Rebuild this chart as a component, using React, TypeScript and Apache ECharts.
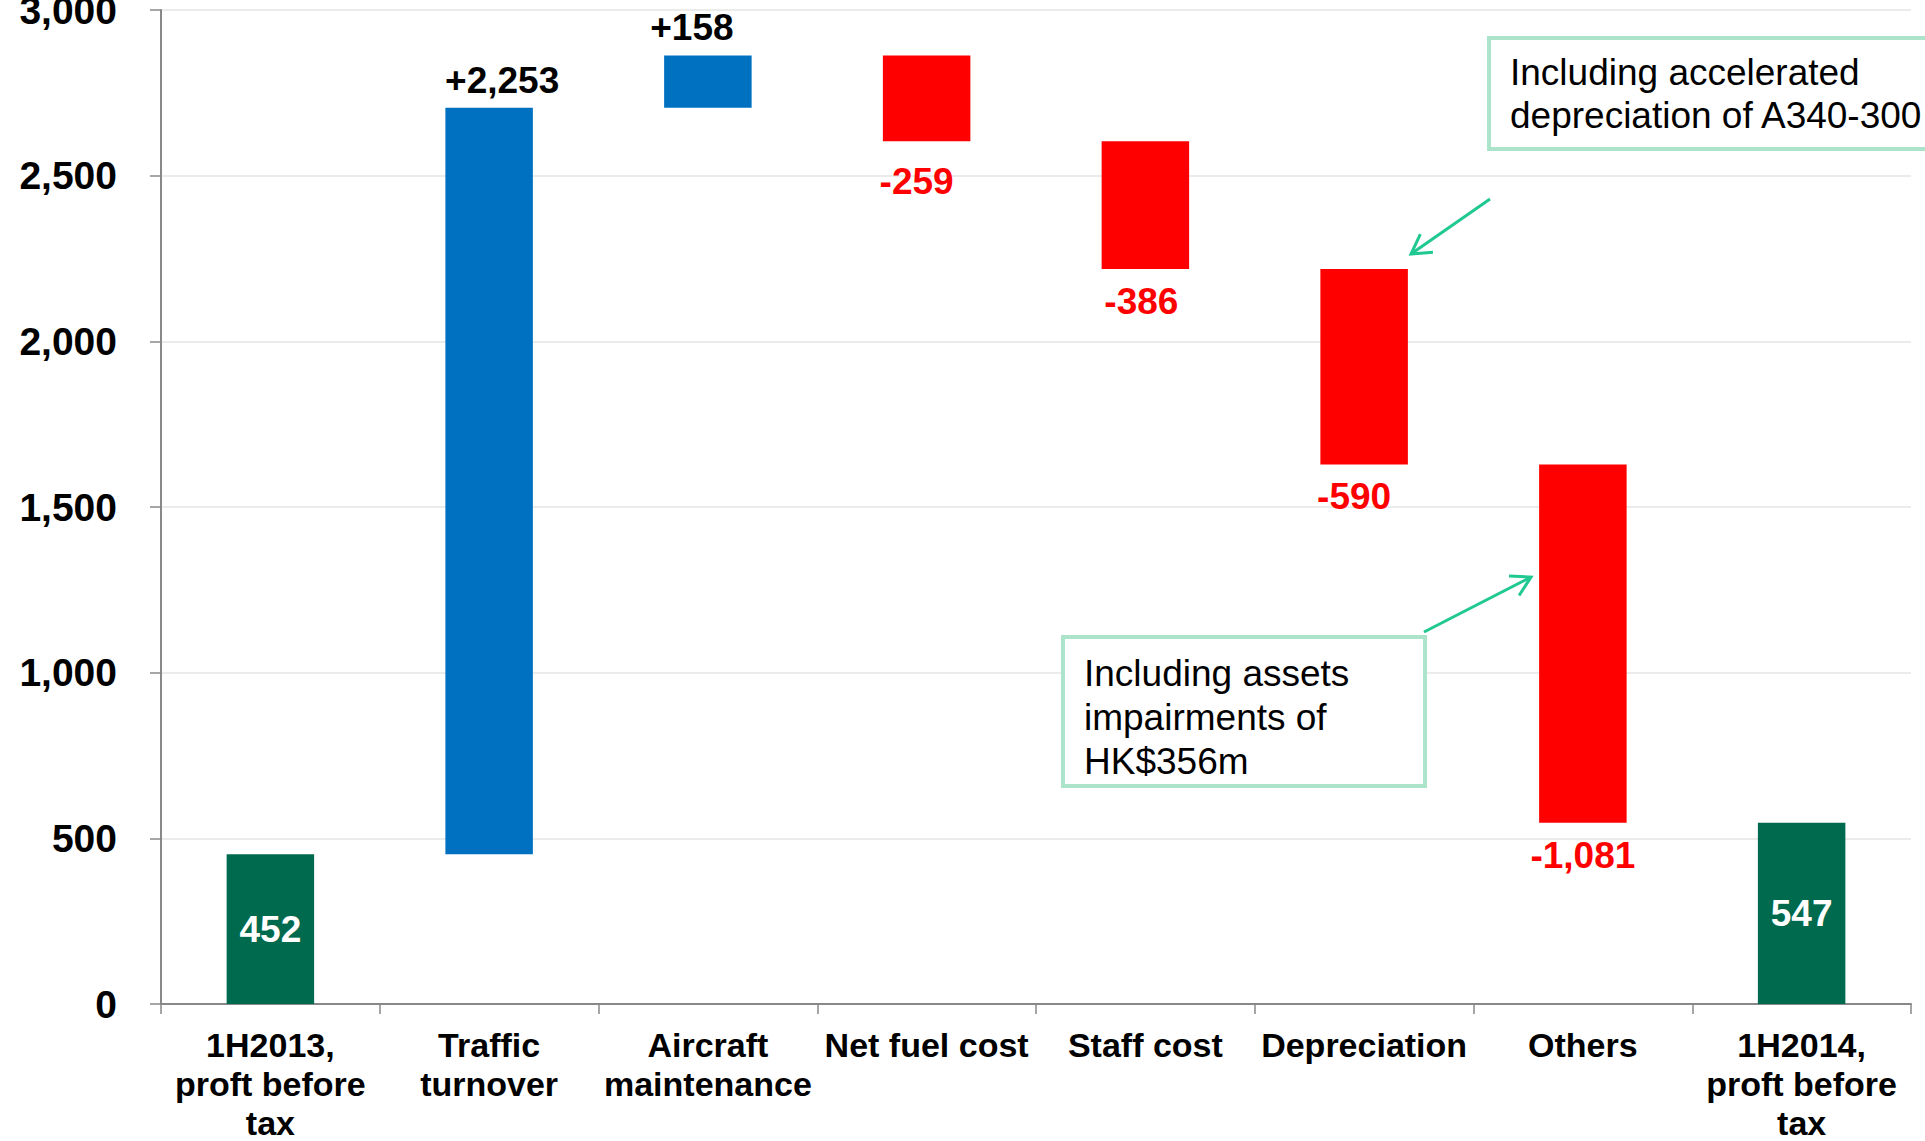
import React, { useEffect, useRef } from "react";
import * as echarts from "echarts";

const categories = [
  "1H2013,\nproft before\ntax",
  "Traffic\nturnover",
  "Aircraft\nmaintenance",
  "Net fuel cost",
  "Staff cost",
  "Depreciation",
  "Others",
  "1H2014,\nproft before\ntax",
];
const changes = [452, 2253, 158, -259, -386, -590, -1081, 547];
const kinds = ["total", "up", "up", "down", "down", "down", "down", "total"];
const yTicks = { min: 0, max: 3000, interval: 500 };
const note1 = ["Including accelerated", "depreciation of A340-300"];
const note2 = ["Including assets", "impairments of", "HK$356m"];

// label fine-tuning (style only)
const labelShiftX = [0, 13, -16, -10, -4, -10, 0, 0];
const labelDistance = [0, 9, 9, 22, 14, 13, 14, 0];

const COLORS: Record<string, string> = { total: "#006A4E", up: "#0070C0", down: "#FF0000" };
const FONT = "'Liberation Sans', Arial, sans-serif";

function arrow(x1: number, y1: number, x2: number, y2: number, color: string) {
  const dx = x2 - x1, dy = y2 - y1;
  const len = Math.sqrt(dx * dx + dy * dy);
  const ux = dx / len, uy = dy / len;
  const L = 22, a = Math.PI / 6;
  const rot = (ang: number) => [ux * Math.cos(ang) - uy * Math.sin(ang), ux * Math.sin(ang) + uy * Math.cos(ang)];
  const [ax, ay] = rot(a);
  const [bx, by] = rot(-a);
  return [
    { type: "line", shape: { x1, y1, x2, y2 }, style: { stroke: color, lineWidth: 3 } },
    {
      type: "polyline",
      shape: { points: [[x2 - L * ax, y2 - L * ay], [x2, y2], [x2 - L * bx, y2 - L * by]] },
      style: { stroke: color, lineWidth: 3, fill: null },
    },
  ];
}

function noteBox(x: number, y: number, w: number, h: number, lines: string[], lineGap: number, textX: number, firstY: number) {
  const els: any[] = [
    { type: "rect", shape: { x, y, width: w, height: h }, style: { fill: "#fff", stroke: "#ACE3CB", lineWidth: 4 }, z: 10 },
  ];
  lines.forEach((t, i) => {
    els.push({
      type: "text",
      x: textX,
      y: firstY + i * lineGap,
      style: { text: t, font: `37px ${FONT}`, fill: "#000", textVerticalAlign: "middle", textAlign: "left" },
      z: 11,
    });
  });
  return els;
}

export default function App() {
  const ref = useRef<HTMLDivElement>(null);
  useEffect(() => {
    document.body.style.margin = "0";
    const chart = echarts.init(ref.current!, undefined, { renderer: "svg" });
    let running = 0;
    const bases: number[] = [];
    const heights: any[] = [];
    changes.forEach((c, i) => {
      const k = kinds[i];
      let base = 0;
      if (k === "total") {
        base = 0;
        running = c;
      } else if (k === "up") {
        base = running;
        running += c;
      } else {
        running += c;
        base = running;
      }
      bases.push(base);
      const txt =
        k === "total" ? c.toLocaleString("en-US") : (c > 0 ? "+" : "-") + Math.abs(c).toLocaleString("en-US");
      heights.push({
        value: Math.abs(c),
        itemStyle: { color: COLORS[k] },
        label: {
          show: true,
          formatter: txt,
          position: k === "total" ? "inside" : k === "up" ? "top" : "bottom",
          distance: labelDistance[i],
          offset: [labelShiftX[i], 0],
          color: k === "total" ? "#fff" : k === "up" ? "#000" : "#FF0000",
          fontSize: 37,
          fontWeight: "bold",
          fontFamily: FONT,
        },
      });
    });

    const teal = "#20C892";
    chart.setOption({
      animation: false,
      grid: { left: 161, right: 14, top: 10, bottom: 137, containLabel: false, outerBoundsMode: "none" },
      xAxis: {
        type: "category",
        data: categories,
        axisLine: { lineStyle: { color: "#888", width: 2 } },
        axisTick: { show: true, length: 10, lineStyle: { color: "#888", width: 1.5 } },
        axisLabel: {
          interval: 0,
          margin: 21,
          fontSize: 34,
          fontWeight: "bold",
          fontFamily: FONT,
          color: "#000",
          lineHeight: 39,
        },
      },
      yAxis: {
        type: "value",
        min: yTicks.min,
        max: yTicks.max,
        interval: yTicks.interval,
        axisLine: { show: true, lineStyle: { color: "#888", width: 2 } },
        axisTick: { show: true, length: 11, lineStyle: { color: "#888", width: 1.5 } },
        splitLine: { lineStyle: { color: "#E4E4E4", width: 1.5 } },
        axisLabel: {
          margin: 44,
          fontSize: 39,
          fontWeight: "bold",
          fontFamily: FONT,
          color: "#000",
          formatter: (v: number) => v.toLocaleString("en-US"),
        },
      },
      series: [
        {
          type: "bar",
          stack: "w",
          data: bases,
          itemStyle: { color: "transparent" },
          silent: true,
          barWidth: "40%",
        },
        {
          type: "bar",
          stack: "w",
          data: heights,
          barWidth: "40%",
        },
      ],
      graphic: [
        ...noteBox(1489, 38, 460, 111, note1, 43, 1510, 72),
        ...noteBox(1063, 637, 362, 149, note2, 44, 1084, 673),
        ...arrow(1490, 199, 1411, 254, teal),
        ...arrow(1424, 632, 1531, 577, teal),
      ],
    });
    return () => chart.dispose();
  }, []);
  return <div ref={ref} style={{ position: "absolute", left: 0, top: 0, width: 1925, height: 1141 }} />;
}
